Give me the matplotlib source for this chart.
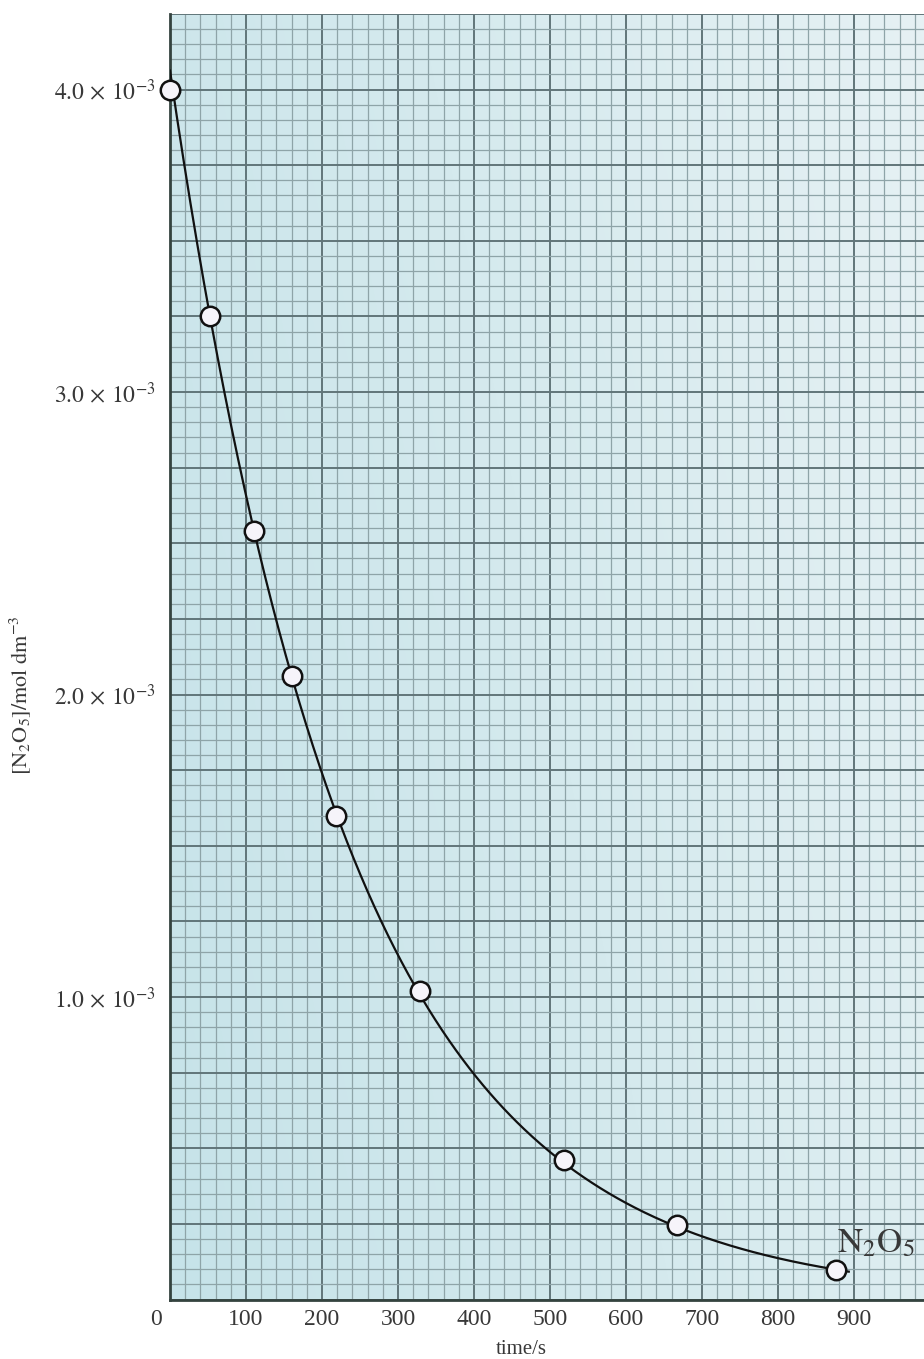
import matplotlib
matplotlib.use("Agg")
import matplotlib.pyplot as plt
import numpy as np
from matplotlib.colors import LinearSegmentedColormap
from matplotlib.ticker import FixedLocator, FuncFormatter, MultipleLocator

plt.rcParams["font.family"] = ["Liberation Serif", "DejaVu Serif"]
plt.rcParams["mathtext.fontset"] = "stix"

# 浓度-时间数据 (N2O5 分解)
time_s = [0, 52, 110, 161, 219, 329, 518, 667, 876]
conc = [4.00e-3, 3.25e-3, 2.54e-3, 2.06e-3, 1.60e-3, 1.02e-3, 0.46e-3, 0.245e-3, 0.096e-3]

x_ticks = [0, 100, 200, 300, 400, 500, 600, 700, 800, 900]
y_labels = {1: r"$1.0\,\times\,10^{-3}$", 2: r"$2.0\,\times\,10^{-3}$",
            3: r"$3.0\,\times\,10^{-3}$", 4: r"$4.0\,\times\,10^{-3}$"}

X_MAX = 992
Y_MAX = 4.25e-3
TEXT_COLOR = "#383838"

fig = plt.figure(figsize=(9.24, 13.59), dpi=100)
ax = fig.add_axes([170 / 924, 59.5 / 1359, 754 / 924, 1285.5 / 1359])

# 方格纸背景 (左下偏青, 右上偏浅)
gx, gy = np.meshgrid(np.linspace(0, 1, 200), np.linspace(0, 1, 200))
shade = np.clip(0.75 * gx + 0.25 * gy, 0, 1)
cmap = LinearSegmentedColormap.from_list("paper", ["#c6e3e9", "#d5eaee", "#e6f1f4"])
ax.imshow(shade, extent=[0, X_MAX, 0, Y_MAX], origin="lower", aspect="auto",
          cmap=cmap, zorder=0, interpolation="bilinear")

ax.set_xlim(0, X_MAX)
ax.set_ylim(0, Y_MAX)

ax.xaxis.set_major_locator(FixedLocator(x_ticks))
ax.xaxis.set_minor_locator(MultipleLocator(20))
ax.yaxis.set_major_locator(MultipleLocator(0.25e-3))
ax.yaxis.set_minor_locator(MultipleLocator(0.05e-3))

ax.set_axisbelow(True)
ax.grid(which="minor", color="#8ea4a8", linewidth=0.9)
ax.grid(which="major", color="#617579", linewidth=1.4)

ax.xaxis.set_major_formatter(FuncFormatter(lambda v, p: "" if v == 0 else f"{v:.0f}"))


def y_fmt(v, p):
    k = round(v * 1e3 * 4)
    if k % 4 == 0 and k // 4 in y_labels:
        return y_labels[k // 4]
    return ""


ax.yaxis.set_major_formatter(FuncFormatter(y_fmt))
ax.tick_params(which="both", length=0)
ax.tick_params(axis="x", pad=7, labelsize=17, labelcolor=TEXT_COLOR)
ax.tick_params(axis="y", pad=10, labelsize=17, labelcolor=TEXT_COLOR)

# 原点 "0" 单独放在轴左下
ax.annotate("0", xy=(0, 0), xycoords="axes fraction", xytext=(-10, -7),
            textcoords="offset points", ha="center", va="top",
            fontsize=17, color=TEXT_COLOR)

for side in ["top", "right"]:
    ax.spines[side].set_visible(False)
for side in ["left", "bottom"]:
    ax.spines[side].set_color("#34433f")
    ax.spines[side].set_linewidth(2)

# 一级反应拟合曲线
k, ln_c0 = np.polyfit(time_s, np.log(conc), 1)
t_fit = np.linspace(0, 893, 400)
ax.plot(t_fit, np.exp(ln_c0 + k * t_fit), color="#111111", linewidth=1.6, zorder=3)

ax.plot(time_s, conc, "o", markersize=14, markerfacecolor="#f6f4fa",
        markeredgecolor="#111111", markeredgewidth=1.8, zorder=4, clip_on=False)

ax.text(878, 0.155e-3, r"$\mathrm{N_2O_5}$", fontsize=25, color=TEXT_COLOR,
        ha="left", va="baseline", zorder=5)

ax.set_xlabel("time/s", fontsize=15, color=TEXT_COLOR)
ax.xaxis.set_label_coords((521 - 170) / 754, -40 / 1285.5)
ax.set_ylabel(r"$[\mathrm{N_2O_5}]/\mathrm{mol\ dm^{-3}}$", fontsize=16, color=TEXT_COLOR)
ax.yaxis.set_label_coords(-(170 - 33) / 754, (1299.5 - 695) / 1285.5)

fig.savefig("out.png", dpi=100)
